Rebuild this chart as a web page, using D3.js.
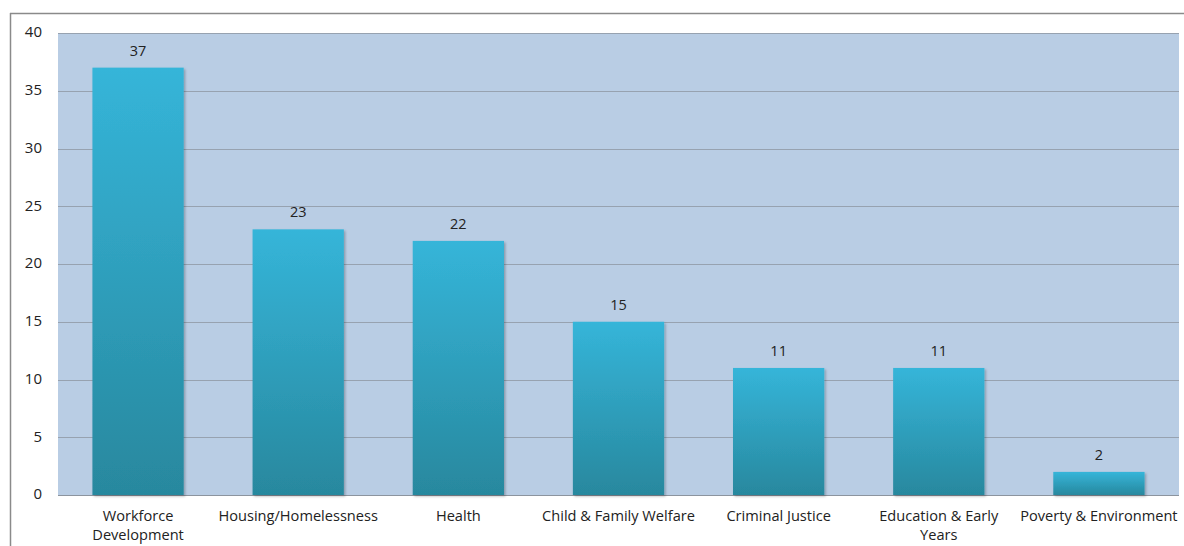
<!DOCTYPE html>
<html>
<head>
<meta charset="utf-8">
<script src="https://cdn.jsdelivr.net/npm/d3@7"></script>
<style>
  body { margin: 0; background: #fff; }
  text { font-family: "Open Sans", "DejaVu Sans", sans-serif; fill: #222; }
</style>
</head>
<body>
<div id="chart"></div>
<script>
var categories = ["Workforce Development", "Housing/Homelessness", "Health", "Child & Family Welfare",
                  "Criminal Justice", "Education & Early Years", "Poverty & Environment"];
var labelLines = [["Workforce", "Development"], ["Housing/Homelessness"], ["Health"], ["Child & Family Welfare"],
                  ["Criminal Justice"], ["Education & Early", "Years"], ["Poverty & Environment"]];
var values = [37, 23, 22, 15, 11, 11, 2];
var yTicks = [0, 5, 10, 15, 20, 25, 30, 35, 40];

var width = 1184, height = 546;
var plot = { left: 58, right: 1179, top: 33, bottom: 495 };

var svg = d3.select("#chart").append("svg")
    .attr("width", width)
    .attr("height", height);

var defs = svg.append("defs");
var grad = defs.append("linearGradient")
    .attr("id", "barGrad")
    .attr("x1", 0).attr("y1", 0).attr("x2", 0).attr("y2", 1);
grad.append("stop").attr("offset", "0%").attr("stop-color", "#35b5d9");
grad.append("stop").attr("offset", "100%").attr("stop-color", "#28889e");

var shadow = defs.append("filter").attr("id", "shadow")
    .attr("x", "-10%").attr("y", "-10%").attr("width", "130%").attr("height", "130%");
shadow.append("feDropShadow")
    .attr("dx", 1.5).attr("dy", 1.5).attr("stdDeviation", 1.2)
    .attr("flood-color", "#000").attr("flood-opacity", 0.25);

// outer frame
svg.append("line").attr("x1", 10).attr("x2", width).attr("y1", 13.5).attr("y2", 13.5)
    .attr("stroke", "#8a8a8a").attr("stroke-width", 1.5);
svg.append("line").attr("x1", 10.5).attr("x2", 10.5).attr("y1", 13).attr("y2", height)
    .attr("stroke", "#8a8a8a").attr("stroke-width", 1.5);

var x = d3.scaleBand()
    .domain(categories)
    .range([plot.left, plot.right])
    .paddingInner(0.43)
    .paddingOuter(0.215);

var y = d3.scaleLinear()
    .domain([0, 40])
    .range([plot.bottom, plot.top]);

// plot background
svg.append("rect")
    .attr("x", plot.left).attr("y", plot.top)
    .attr("width", plot.right - plot.left).attr("height", plot.bottom - plot.top)
    .attr("fill", "#b9cde4");

// gridlines
svg.append("g")
    .selectAll("line")
    .data(yTicks)
    .join("line")
    .attr("x1", plot.left).attr("x2", plot.right)
    .attr("y1", d => Math.round(y(d)) + 0.5).attr("y2", d => Math.round(y(d)) + 0.5)
    .attr("stroke", d => d === 0 ? "#8c949e" : "#97a2b0")
    .attr("stroke-width", 1.2);

// y axis labels
var yAxis = svg.append("g")
    .attr("transform", "translate(" + (plot.left - 16) + ",0)")
    .call(d3.axisLeft(y).tickValues(yTicks).tickSize(0).tickPadding(0));
yAxis.select(".domain").remove();
yAxis.selectAll("text")
    .attr("font-size", 15)
    .attr("dy", "0.25em")
    .attr("fill", "#222")
    .style("font-family", "'Open Sans', sans-serif");

// bars
svg.append("g")
    .selectAll("rect")
    .data(values)
    .join("rect")
    .attr("x", (d, i) => x(categories[i]))
    .attr("y", d => y(d))
    .attr("width", x.bandwidth())
    .attr("height", d => y(0) - y(d))
    .attr("fill", "url(#barGrad)")
    .attr("filter", "url(#shadow)");

// value labels
svg.append("g")
    .selectAll("text")
    .data(values)
    .join("text")
    .attr("x", (d, i) => x(categories[i]) + x.bandwidth() / 2)
    .attr("y", d => y(d) - 12)
    .attr("text-anchor", "middle")
    .attr("font-size", 14.5)
    .text(d => d);

// category labels
var catG = svg.append("g")
    .selectAll("text")
    .data(categories)
    .join("text")
    .attr("x", d => x(d) + x.bandwidth() / 2)
    .attr("y", 521)
    .attr("text-anchor", "middle")
    .attr("font-size", 14.6);
catG.each(function(d, i) {
    d3.select(this).selectAll("tspan")
        .data(labelLines[i])
        .join("tspan")
        .attr("x", x(d) + x.bandwidth() / 2)
        .attr("dy", (t, j) => j === 0 ? 0 : 19)
        .text(t => t);
});
</script>
</body>
</html>
